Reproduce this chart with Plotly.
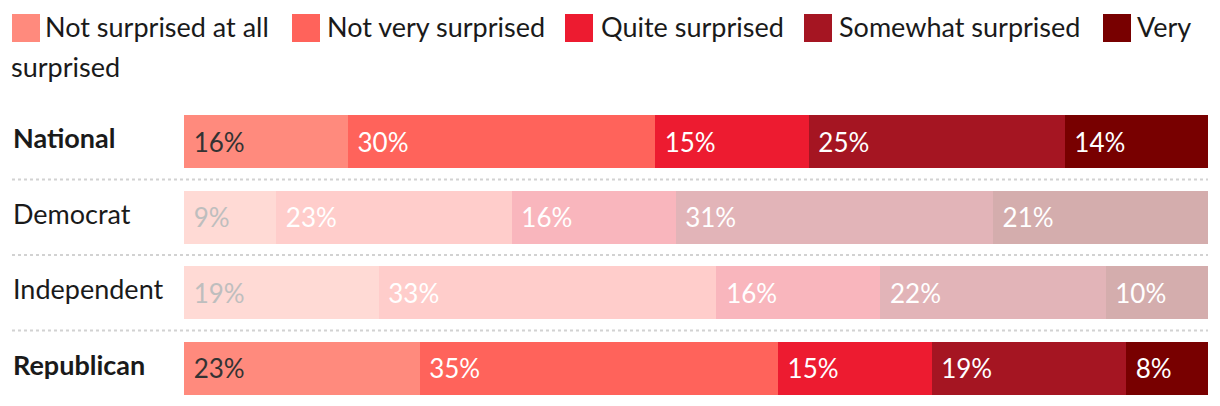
import plotly.graph_objects as go

# ---- data ----
groups = ["National", "Democrat", "Independent", "Republican"]
responses = ["Not surprised at all", "Not very surprised", "Quite surprised",
             "Somewhat surprised", "Very surprised"]
not_surprised_at_all = [16, 9, 19, 23]
not_very_surprised = [30, 23, 33, 35]
quite_surprised = [15, 16, 16, 15]
somewhat_surprised = [25, 31, 22, 19]
very_surprised = [14, 21, 10, 8]
series = [not_surprised_at_all, not_very_surprised, quite_surprised,
          somewhat_surprised, very_surprised]
highlighted = ["National", "Republican"]

# ---- style ----
colors = ["#FF8A7D", "#FF635B", "#ED1B30", "#A51522", "#780000"]
FADE = 0.32
FONT = "Lato"
W, H = 1220, 406
ML, MR, MT, MB = 184, 12, 104, 0
PW, PH = W - ML - MR, H - MT - MB


def px(x):
    return (x - ML) / PW


def py(y):
    return (H - MB - y) / PH


def fade_hex(hexcol, a):
    r, g, b = (int(hexcol[i:i + 2], 16) for i in (1, 3, 5))
    f = lambda c: round(255 - a * (255 - c))
    return "#%02X%02X%02X" % (f(r), f(g), f(b))


fig = go.Figure()
for i, (name, vals) in enumerate(zip(responses, series)):
    mcols, tcols = [], []
    for g in groups:
        a = 1.0 if g in highlighted else FADE
        mcols.append(fade_hex(colors[i], a))
        tcols.append(fade_hex("#333333", a) if i == 0 else "#FFFFFF")
    fig.add_trace(go.Bar(
        name=name, y=groups, x=vals, orientation="h",
        marker=dict(color=mcols, line=dict(width=0)),
        text=["\u00a0" + f"{v}%" for v in vals],
        textposition="inside", insidetextanchor="start",
        textangle=0, constraintext="none",
        textfont=dict(family=FONT, size=26, color=tcols),
        hoverinfo="skip", showlegend=False,
    ))

shapes = []
annotations = []

# row separators
for k in range(len(groups) - 1):
    yc = MT + (k + 1) * PH / len(groups)
    shapes.append(dict(type="line", xref="paper", yref="paper",
                       x0=px(12), x1=px(1208), y0=py(yc), y1=py(yc),
                       line=dict(color="#D2D2D2", width=2, dash="dot")))

# row labels
for g in groups:
    bold = g in highlighted
    annotations.append(dict(
        xref="paper", yref="y", x=px(11), y=g, xanchor="left", yanchor="middle",
        yshift=4,
        text=f"<b>{g}</b>" if bold else g, showarrow=False,
        font=dict(family=FONT, size=27, color="#1A1A1A")))

# custom legend (wrapping like the original)
sq_x = [12, 292, 565, 804, 1103]
tx_x = [43, 325, 599, 837, 1135]
for i, name in enumerate(responses):
    shapes.append(dict(type="rect", xref="paper", yref="paper",
                       x0=px(sq_x[i]), x1=px(sq_x[i] + 28),
                       y0=py(42), y1=py(14),
                       fillcolor=colors[i], line=dict(width=0)))
    label = name if i < len(responses) - 1 else name.split(" ")[0]
    annotations.append(dict(
        xref="paper", yref="paper", x=px(tx_x[i]), y=py(27),
        xanchor="left", yanchor="middle", text=label, showarrow=False,
        font=dict(family=FONT, size=27, color="#1A1A1A")))
annotations.append(dict(
    xref="paper", yref="paper", x=px(9), y=py(66),
    xanchor="left", yanchor="middle", text=responses[-1].split(" ", 1)[1],
    showarrow=False, font=dict(family=FONT, size=27, color="#1A1A1A")))

fig.update_layout(
    width=W, height=H, barmode="stack", bargap=0.3,
    margin=dict(l=ML, r=MR, t=MT, b=MB, pad=0),
    paper_bgcolor="white", plot_bgcolor="white",
    xaxis=dict(range=[0, 100], visible=False, fixedrange=True),
    yaxis=dict(categoryorder="array", categoryarray=groups,
               range=[3.5, -0.5], visible=False, fixedrange=True),
    shapes=shapes, annotations=annotations,
    font=dict(family=FONT),
)

fig.write_html("out.html")
